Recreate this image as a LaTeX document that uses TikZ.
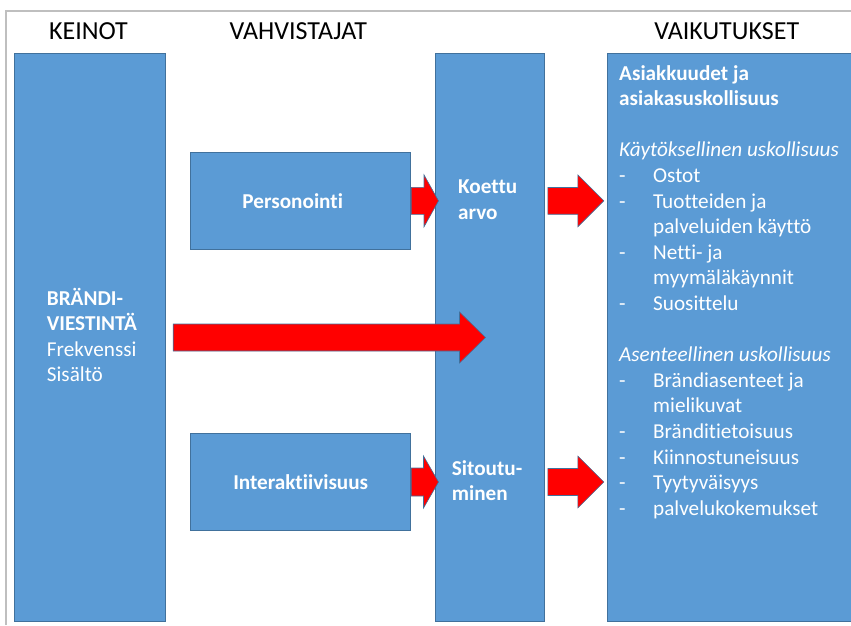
\documentclass[tikz,border=0pt]{standalone}
\usepackage{fontspec}
\setmainfont{Carlito}[Ligatures = NoCommon]
\usetikzlibrary{
    calc,
    positioning
}
\definecolor{boxblue}{HTML}{5B9BD5}
\definecolor{boxline}{HTML}{41719C}
\definecolor{framegray}{HTML}{BFBFBF}
\newcommand{\listdash}{\makebox[34pt][l]{-}}
\newcommand{\listgap}{\hspace*{34pt}}
\tikzset {
    column box/.style = {draw = boxline, line width = 1pt, fill = boxblue, inner sep = 0pt},
    heading/.style = {anchor = base, inner sep = 0pt, font = \fontsize{26}{31}\selectfont},
    box text/.style = {text = white, font = \fontsize{21.2}{25.6}\selectfont\bfseries},
    list text/.style = {anchor = base west, inner sep = 0pt, text = white, font = \fontsize{21.2}{25.6}\selectfont},
    bold text/.style = {list text, font = \fontsize{21.2}{25.6}\selectfont\bfseries},
    %
    block arrow/.style args = {#1/#2/#3}{
        draw = boxline, line width = .6pt, fill = red,
        to path = {
            ($ (\tikztostart) + (0, #1) $) -- ($ (\tikztotarget) + (-#3, #1) $)
            -- ($ (\tikztotarget) + (-#3, #2) $) -- (\tikztotarget)
            -- ($ (\tikztotarget) + (-#3, -#2) $) -- ($ (\tikztotarget) + (-#3, -#1) $)
            -- ($ (\tikztostart) + (0, -#1) $) -- cycle
        }
    }
}
\begin{document}
\begin{tikzpicture}[x = 1pt, y = -1pt]
    \useasboundingbox (0, 0) rectangle (851, 625);
    \draw [framegray, line width = 2pt] (6, 625) -- (6, 11) -- (851, 11);
    % headings
    \node (hkeinot) [heading] at (88.5, 39.3) {KEINOT};
    \node (hvahvistajat) [heading] at (298.3, 39.3) {VAHVISTAJAT};
    \node (hvaikutukset) [heading] at (726.7, 39.3) {VAIKUTUKSET};
    % columns
    \node (keinot) [column box, minimum width = 151.5pt, minimum height = 568.4pt] at (89.75, 337.5) {};
    \node (mid) [column box, minimum width = 108.3pt, minimum height = 568.4pt] at (489.85, 337.5) {};
    \node (vaik) [column box, minimum width = 244.3pt, minimum height = 568.4pt] at (729.85, 337.5) {};
    \node (pers) [column box, box text, minimum width = 220pt, minimum height = 96.3pt] at (300.7, 200.85) {Personointi\hspace*{16pt}};
    \node (inter) [column box, box text, minimum width = 220pt, minimum height = 97.4pt] at (300.7, 482) {Interaktiivisuus};
    % left column text
    \node (brand1) [bold text] at (46.7, 305) {BRÄNDI-};
    \node (brand2) [bold text] at (46.7, 330.6) {VIESTINTÄ};
    \node (brand3) [list text] at (46.7, 356.2) {Frekvenssi};
    \node (brand4) [list text] at (46.7, 381.8) {Sisältö};
    % middle column text
    \node (arvo1) [bold text] at (458, 193.3) {Koettu};
    \node (arvo2) [bold text] at (458, 219.3) {arvo};
    \node (sit1) [bold text] at (451.7, 475) {Sitoutu-};
    \node (sit2) [bold text] at (451.7, 500.6) {minen};
    % right column text
    \foreach \y/\line in {
        0/{\bfseries Asiakkuudet ja},
        1/{\bfseries asiakasuskollisuus},
        3/{\itshape Käytöksellinen uskollisuus},
        4/{\listdash Ostot},
        5/{\listdash Tuotteiden ja},
        6/{\listgap palveluiden käyttö},
        7/{\listdash Netti- ja},
        8/{\listgap myymäläkäynnit},
        9/{\listdash Suosittelu},
        11/{\itshape Asenteellinen uskollisuus},
        12/{\listdash Brändiasenteet ja},
        13/{\listgap mielikuvat},
        14/{\listdash Bränditietoisuus},
        15/{\listdash Kiinnostuneisuus},
        16/{\listdash Tyytyväisyys},
        17/{\listdash palvelukokemukset}
    }
        \node (line\y) [list text] at (619, 80 + 25.6 * \y) {\line};
    % arrows
    \coordinate (t1) at ($ (mid.west |- pers.east) + (3.3, 0) $);
    \coordinate (s2) at ($ (mid.east |- pers.east) + (3.3, 0) $);
    \coordinate (t2) at ($ (vaik.west |- pers.east) + (-3.4, 0) $);
    \coordinate (s0) at ($ (keinot.east) + (7.2, 0) $);
    \coordinate (t0) at ($ (mid.west) + (50.3, 0) $);
    \coordinate (t3) at ($ (mid.west |- inter.east) + (3.3, 0) $);
    \coordinate (s4) at ($ (mid.east |- inter.east) + (3.3, 0) $);
    \coordinate (t4) at ($ (vaik.west |- inter.east) + (-3.4, 0) $);
    \draw [block arrow = 13.5/26/14.5] (pers.east) to (t1);
    \draw [block arrow = 13.4/26/26] (s2) to (t2);
    \draw [block arrow = 13.5/25.5/26] (s0) to (t0);
    \draw [block arrow = 14/26/15] (inter.east) to (t3);
    \draw [block arrow = 13.5/26/26] (s4) to (t4);
\end{tikzpicture}
\end{document}
